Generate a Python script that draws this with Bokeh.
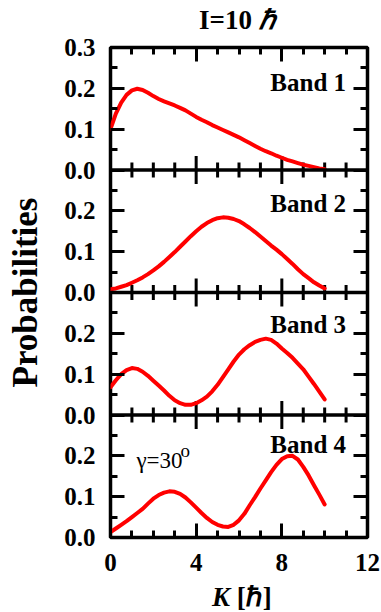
import math
from bokeh.plotting import figure
from bokeh.models import Label, LinearAxis, FixedTicker, Range1d, Span, Div
from bokeh.layouts import column
from bokeh.embed import file_html
from bokeh.resources import INLINE

# ---------------- data ----------------
K = [0.0, 0.25, 0.5, 0.75, 1.0, 1.25, 1.5, 1.75, 2.0, 2.25, 2.5, 2.75, 3.0, 3.25,
     3.5, 3.75, 4.0, 4.25, 4.5, 4.75, 5.0, 5.25, 5.5, 5.75, 6.0, 6.25, 6.5, 6.75,
     7.0, 7.25, 7.5, 7.75, 8.0, 8.25, 8.5, 8.75, 9.0, 9.25, 9.5, 9.75, 10.0]
band1 = [0.100, 0.138, 0.165, 0.184, 0.195, 0.199, 0.196, 0.189, 0.181, 0.174, 0.168,
         0.163, 0.158, 0.152, 0.146, 0.138, 0.130, 0.123, 0.117, 0.110, 0.104, 0.098,
         0.092, 0.086, 0.080, 0.073, 0.066, 0.059, 0.052, 0.046, 0.041, 0.035, 0.030,
         0.025, 0.021, 0.017, 0.013, 0.010, 0.007, 0.004, 0.002]
band2 = [0.008, 0.010, 0.014, 0.018, 0.024, 0.030, 0.037, 0.045, 0.054, 0.064, 0.075,
         0.087, 0.099, 0.112, 0.125, 0.138, 0.150, 0.161, 0.170, 0.177, 0.182, 0.184,
         0.183, 0.180, 0.175, 0.167, 0.158, 0.148, 0.137, 0.126, 0.115, 0.105, 0.094,
         0.082, 0.070, 0.057, 0.045, 0.035, 0.025, 0.017, 0.010]
band3 = [0.068, 0.085, 0.100, 0.110, 0.115, 0.113, 0.106, 0.096, 0.084, 0.072, 0.060,
         0.047, 0.036, 0.029, 0.025, 0.025, 0.029, 0.036, 0.045, 0.058, 0.074, 0.093,
         0.112, 0.131, 0.148, 0.161, 0.171, 0.179, 0.184, 0.187, 0.184, 0.175, 0.163,
         0.152, 0.140, 0.126, 0.112, 0.094, 0.076, 0.057, 0.038]
band4 = [0.013, 0.022, 0.031, 0.040, 0.050, 0.060, 0.070, 0.083, 0.095, 0.104, 0.110,
         0.113, 0.112, 0.107, 0.098, 0.086, 0.073, 0.060, 0.048, 0.038, 0.031, 0.027,
         0.026, 0.031, 0.042, 0.058, 0.079, 0.099, 0.120, 0.140, 0.160, 0.178, 0.192,
         0.199, 0.200, 0.191, 0.173, 0.152, 0.128, 0.105, 0.081]
bands = [band1, band2, band3, band4]
band_names = ["Band 1", "Band 2", "Band 3", "Band 4"]
band_label_top = [0.248, 0.251, 0.254, 0.260]

x_major = [0, 4, 8, 12]
x_minor = [1, 2, 3, 5, 6, 7, 9, 10, 11]
y_major = [0.0, 0.1, 0.2]
y_major_labels = ["0.0", "0.1", "0.2"]
y_top_label = "0.3"
y_minor = [0.05, 0.15, 0.25]
YMAX = 0.3

title_main = "I=10"
title_unit = "\u210f"
xlabel_var = "K"
xlabel_unit = "[\u210f]"
ylabel_text = "Probabilities"
gamma_text = "\u03b3=30"
gamma_sup = "o"

# ---------------- style ----------------
FONT = "Liberation Serif"
NP = len(bands)
W = 381
H_TTL, H_LBL, LBL_OVERLAP = 32, 32, 10
H_FIG = 612 - H_TTL - H_LBL + LBL_OVERLAP
TOP_B = 47 - H_TTL

p = figure(width=W, height=H_FIG, x_range=Range1d(0, 12), y_range=Range1d(0, NP * YMAX),
           x_axis_type=None, y_axis_type=None, toolbar_location=None,
           output_backend="svg", min_border_left=110, min_border_right=14,
           min_border_top=TOP_B, min_border_bottom=H_FIG - TOP_B - 490)
p.background_fill_color = "white"
p.border_fill_color = "white"
p.outline_line_color = "black"
p.outline_line_width = 3.5

# one y range per stacked panel (panel 0 at the top)
for i in range(NP):
    p.extra_y_ranges["b%d" % i] = Range1d(-(NP - 1 - i) * YMAX, (i + 1) * YMAX)


def style_axis(ax, ticks, minor, labels, standoff=0):
    ax.ticker = FixedTicker(ticks=ticks, minor_ticks=minor)
    ax.axis_line_color = None
    ax.major_tick_in = 14
    ax.major_tick_out = 0
    ax.minor_tick_in = 7
    ax.minor_tick_out = 0
    ax.major_tick_line_width = 3
    ax.minor_tick_line_width = 3
    ax.major_tick_line_color = "black"
    ax.minor_tick_line_color = "black"
    if labels:
        ax.major_label_text_font = FONT
        ax.major_label_text_font_style = "bold"
        ax.major_label_text_font_size = "25px"
        ax.major_label_text_color = "black"
        ax.major_label_standoff = standoff
    else:
        ax.major_label_text_font_size = "0px"
        ax.major_label_text_color = None
        ax.major_label_standoff = 0


y_ticks, y_over, y_min = [], {}, []
for j in range(NP):
    for t, lab in zip(y_major, y_major_labels):
        v = round(j * YMAX + t, 3)
        y_ticks.append(v)
        y_over[v] = lab
    for m in y_minor:
        y_min.append(round(j * YMAX + m, 3))
top_v = round(NP * YMAX, 3)
y_ticks.append(top_v)
y_over[top_v] = y_top_label

left = LinearAxis()
style_axis(left, y_ticks, y_min, True, 15)
left.major_label_overrides = y_over
left.axis_label = ylabel_text
left.axis_label_text_font = FONT
left.axis_label_text_font_style = "bold"
left.axis_label_text_font_size = "35px"
left.axis_label_text_color = "black"
left.axis_label_standoff = 16
p.add_layout(left, "left")

right = LinearAxis()
style_axis(right, y_ticks, y_min, False)
p.add_layout(right, "right")

top = LinearAxis()
style_axis(top, x_major, x_minor, False)
p.add_layout(top, "above")

bottom = LinearAxis()
style_axis(bottom, x_major, x_minor, True, 16)
p.add_layout(bottom, "below")

bx_major, by_major, bx_minor, by_minor = [], [], [], []
for j in range(1, NP):
    p.add_layout(Span(location=j * YMAX, dimension="width",
                      line_color="black", line_width=3.5))
    for x in x_major:
        bx_major.append(x)
        by_major.append(j * YMAX)
    for x in x_minor:
        bx_minor.append(x)
        by_minor.append(j * YMAX)
p.scatter(bx_major, by_major, marker="dash", size=28, angle=math.pi / 2,
          line_color="black", line_width=3)
p.scatter(bx_minor, by_minor, marker="dash", size=15, angle=math.pi / 2,
          line_color="black", line_width=3)

for i in range(NP):
    p.line(K, bands[i], y_range_name="b%d" % i, line_color="#ff0000",
           line_width=4, line_join="round", line_cap="round")
    p.add_layout(Label(x=11.0, y=band_label_top[i], y_range_name="b%d" % i,
                       text=band_names[i], text_align="right",
                       text_baseline="top", text_font=FONT,
                       text_font_style="bold", text_font_size="25px",
                       text_color="black"))

p.add_layout(Label(x=1.21, y=0.220, y_range_name="b3", text=gamma_text,
                   text_align="left", text_baseline="top", text_font=FONT,
                   text_font_size="23px", text_color="black"))
p.add_layout(Label(x=1.21, y=0.240, x_offset=44, y_range_name="b3", text=gamma_sup,
                   text_align="left", text_baseline="top", text_font=FONT,
                   text_font_size="19px", text_color="black"))

title = Div(
    text=('<div style="font-family:\'%s\';font-size:27px;font-weight:bold;'
          'line-height:24px;padding-top:8px;padding-left:199px;color:black;'
          'white-space:nowrap;">%s <i>%s</i></div>') % (FONT, title_main, title_unit),
    width=W, height=H_TTL, margin=0)

xlabel = Div(
    text=('<div style="font-family:\'%s\';font-size:27px;font-weight:bold;'
          'line-height:29px;padding-top:3px;padding-left:212px;color:black;'
          'white-space:nowrap;"><i>%s</i> %s</div>') % (FONT, xlabel_var, xlabel_unit),
    width=W, height=H_LBL, margin=(-LBL_OVERLAP, 0, 0, 0))

layout = column(title, p, xlabel)
open("out.html", "w").write(file_html(layout, INLINE))
